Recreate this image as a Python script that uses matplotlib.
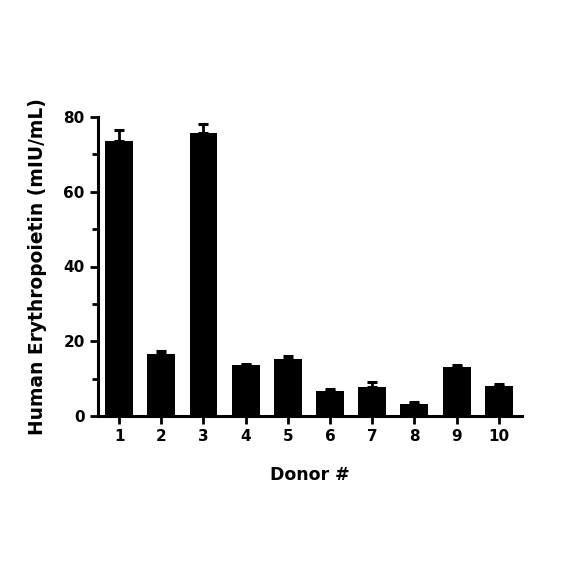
import matplotlib
matplotlib.use("Agg")
import matplotlib.pyplot as plt
from matplotlib.ticker import MultipleLocator

donors = ["1", "2", "3", "4", "5", "6", "7", "8", "9", "10"]
values = [73.5, 16.6, 75.7, 13.6, 15.2, 6.7, 7.8, 3.3, 13.2, 8.0]
errors = [3.0, 0.8, 2.3, 0.3, 0.8, 0.5, 1.4, 0.4, 0.4, 0.5]

plt.rcParams['font.family'] = ['DejaVu Sans']
fig = plt.figure(figsize=(5.84, 5.84), dpi=100)
ax = fig.add_axes([98/584, (584-416)/584, (522-98)/584, (416-117)/584])

x = list(range(1, len(donors) + 1))
ax.bar(x, values, width=0.66, color="black", zorder=2)
ax.errorbar(x, values, yerr=[[0]*len(errors), errors], fmt="none",
            ecolor="black", elinewidth=2, capsize=3.5, capthick=2.2, zorder=1)

ax.set_xlim(0.5, 10.55)
ax.set_ylim(0, 80)
ax.set_xticks(x)
ax.set_xticklabels(donors, fontsize=11, fontweight="bold")
ax.yaxis.set_major_locator(MultipleLocator(20))
ax.yaxis.set_minor_locator(MultipleLocator(10))
for lbl in ax.get_yticklabels():
    lbl.set_fontsize(11)
    lbl.set_fontweight("bold")
ax.tick_params(axis="both", which="major", width=2, length=6, direction="out")
ax.tick_params(axis="y", which="minor", width=2, length=4, direction="out")
for s in ["top", "right"]:
    ax.spines[s].set_visible(False)
for s in ["left", "bottom"]:
    ax.spines[s].set_linewidth(2.2)

ax.set_ylabel("Human Erythropoietin (mIU/mL)", fontsize=13.4, fontweight="bold", labelpad=12)
ax.set_xlabel("Donor #", fontsize=12.5, fontweight="bold", labelpad=16)

fig.savefig("out.png", dpi=100)
